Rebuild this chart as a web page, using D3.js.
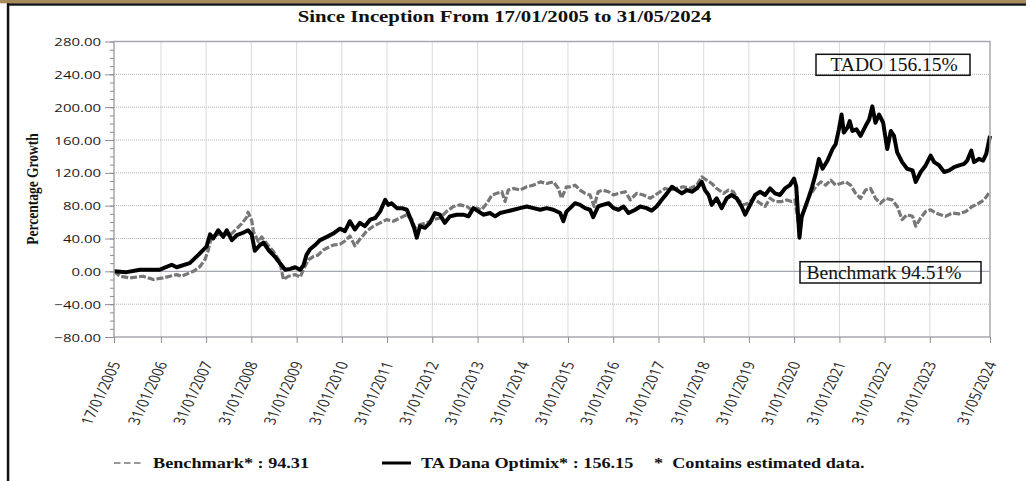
<!DOCTYPE html>
<html>
<head>
<meta charset="utf-8">
<script src="https://cdn.jsdelivr.net/npm/d3@7"></script>
<style>
  body { margin: 0; background: #fff; }
  svg { display: block; }
</style>
</head>
<body>
<svg id="chart" width="1026" height="481"></svg>
<script>
// values, x as decimal years
const fundYears = [2005.044,2005.32,2005.62,2006.06,2006.32,2006.43,2006.72,2006.91,2007.09,2007.17,2007.24,2007.35,2007.46,2007.54,2007.65,2007.76,2007.90,2008.01,2008.09,2008.16,2008.27,2008.35,2008.46,2008.60,2008.71,2008.83,2008.94,2009.05,2009.16,2009.23,2009.30,2009.38,2009.49,2009.60,2009.75,2009.89,
  2010.04,2010.15,2010.26,2010.37,2010.48,2010.59,2010.71,2010.82,2010.93,2011.04,2011.11,2011.18,2011.30,2011.41,2011.52,2011.61,2011.68,2011.74,2011.81,2011.92,2012.03,2012.14,2012.25,2012.36,2012.47,2012.62,2012.77,2012.88,2012.99,2013.10,2013.21,2013.36,2013.47,2013.58,2013.73,2013.88,2014.02,2014.17,2014.32,2014.47,2014.61,2014.76,2014.91,2014.98,2015.05,
  2015.13,2015.24,2015.35,2015.46,2015.57,2015.64,2015.75,2015.85,2015.98,2016.09,2016.20,2016.31,2016.42,2016.57,2016.68,2016.82,2016.93,2017.04,2017.15,2017.27,2017.38,2017.49,2017.60,2017.71,2017.82,2017.93,2018.04,2018.11,2018.19,2018.26,2018.37,2018.48,2018.59,2018.70,2018.81,2018.92,2019.00,2019.11,2019.22,2019.33,2019.44,2019.55,2019.66,2019.77,2019.88,2019.99,
  2020.08,2020.13,2020.20,2020.25,2020.32,2020.41,2020.48,2020.56,2020.63,2020.71,2020.82,2020.93,2021.00,2021.07,2021.13,2021.18,2021.26,2021.31,2021.37,2021.46,2021.55,2021.66,2021.74,2021.81,2021.88,2021.96,2022.05,2022.14,2022.22,2022.29,2022.36,2022.47,2022.58,2022.70,2022.77,2022.88,2022.99,2023.10,2023.18,2023.29,2023.40,2023.51,2023.62,2023.73,2023.84,2023.91,2024.00,2024.06,2024.17,2024.26,2024.33,2024.413];
const fundValues = [0,-1,2,2,8,5,10,20,30,45,40,50,42,50,38,44,47,50,45,25,32,35,26,18,10,2,3,5,2,7,20,27,32,38,42,46,
  52,49,61,51,59,55,63,65,73,87,81,83,77,77,75,63,53,41,55,53,59,71,69,59,67,69,69,67,77,73,69,71,67,71,73,75,77,79,77,75,77,75,71,61,73,
  77,83,81,77,75,66,79,81,83,77,75,79,71,75,79,77,74,79,87,95,103,99,95,99,97,101,109,99,93,81,89,77,89,93,89,79,69,81,93,97,93,101,95,93,101,105,
  113,103,41,67,77,91,103,119,137,125,135,149,155,173,191,169,175,183,171,173,165,177,185,201,181,191,181,149,171,165,145,133,125,123,109,121,129,141,133,129,121,123,127,129,131,135,147,133,137,135,143,165];

const benchYears = [2005.044,2005.18,2005.40,2005.69,2005.91,2006.13,2006.43,2006.54,2006.80,2006.95,2007.06,2007.13,2007.20,2007.39,2007.61,2007.76,2007.87,2007.98,2008.01,2008.09,2008.13,2008.24,2008.31,2008.42,2008.57,2008.71,2008.79,2008.90,2009.05,2009.16,2009.23,2009.34,2009.45,2009.56,2009.67,2009.89,
  2010.04,2010.15,2010.26,2010.37,2010.48,2010.63,2010.78,2010.93,2011.07,2011.22,2011.37,2011.52,2011.63,2011.70,2011.81,2011.96,2012.11,2012.25,2012.40,2012.55,2012.70,2012.84,2012.95,2013.06,2013.17,2013.29,2013.40,2013.51,2013.62,2013.69,2013.76,2013.88,2014.02,2014.17,2014.32,2014.47,2014.61,2014.76,2014.87,2014.94,2015.05,
  2015.13,2015.24,2015.35,2015.46,2015.57,2015.66,2015.75,2015.85,2015.98,2016.09,2016.20,2016.35,2016.46,2016.60,2016.75,2016.90,2017.01,2017.12,2017.23,2017.34,2017.49,2017.63,2017.78,2017.93,2018.04,2018.15,2018.26,2018.37,2018.52,2018.63,2018.74,2018.85,2018.96,2019.07,2019.18,2019.33,2019.44,2019.55,2019.66,2019.81,2019.92,2020.03,2020.10,2020.20,2020.26,2020.32,
  2020.41,2020.56,2020.67,2020.78,2020.89,2021.00,2021.11,2021.22,2021.33,2021.44,2021.55,2021.66,2021.77,2021.88,2021.99,2022.11,2022.25,2022.36,2022.47,2022.58,2022.70,2022.77,2022.88,2022.99,2023.10,2023.21,2023.32,2023.43,2023.58,2023.73,2023.88,2024.02,2024.17,2024.28,2024.413];
const benchValues = [0,-6,-8,-6,-10,-8,-4,-6,0,6,15,26,42,46,44,52,58,66,72,62,48,36,42,34,24,12,-10,-6,-4,-7,2,14,18,20,26,32,
  33,37,43,31,39,49,55,59,63,61,65,69,63,53,57,59,63,65,73,79,81,79,75,77,75,83,93,95,97,85,99,101,99,103,105,109,107,109,101,89,103,
  103,105,99,95,93,79,97,99,97,93,95,97,87,95,93,89,93,97,101,99,101,103,101,105,115,111,107,101,95,99,97,87,81,83,89,83,79,89,85,85,87,85,87,50,65,78,
  91,103,109,105,111,105,107,109,105,95,89,99,101,89,83,89,87,79,63,69,67,55,65,73,75,71,69,67,71,70,73,79,83,87,97];

const tickDates = ["2005-01-17","2006-01-31","2007-01-31","2008-01-31","2009-01-31","2010-01-31","2011-01-31","2012-01-31","2013-01-31","2014-01-31","2015-01-31","2016-01-31","2017-01-31","2018-01-31","2019-01-31","2020-01-31","2021-01-31","2022-01-31","2023-01-31","2024-05-31"];
const yTicks = [-80,-40,0,40,80,120,160,200,240,280];
const yMinorTicks = d3.range(-80, 281, 10);

const titleText = "Since Inception From 17/01/2005 to 31/05/2024";
const yTitle = "Percentage Growth";
const fundLabel = "TADO 156.15%";
const benchLabel = "Benchmark 94.51%";
const legendBench = "Benchmark* : 94.31";
const legendFund = "TA Dana Optimix* : 156.15";
const legendNote = "*  Contains estimated data.";

// the source image is stretched sideways, so most text is widened too
const SX = 1.3;

const yearToDate = t => {
  const yr = Math.floor(t);
  const a = Date.UTC(yr, 0, 1), b = Date.UTC(yr + 1, 0, 1);
  return new Date(a + (t - yr) * (b - a));
};
const parseDate = d3.utcParse("%Y-%m-%d");
const fmt = d3.utcFormat("%d/%m/%Y");

const plotL = 114, plotR = 990, plotT = 41.5, plotB = 337;

const svg = d3.select("#chart");
svg.append("rect").attr("width", 1026).attr("height", 481).attr("fill", "#fff");

// frame bits
svg.append("rect").attr("x", 0).attr("y", 0).attr("width", 1026).attr("height", 3.3).attr("fill", "#a88b5d");
svg.append("rect").attr("x", 7).attr("y", 3.3).attr("width", 1019).attr("height", 2.4).attr("fill", "#111");
svg.append("rect").attr("x", 6.8).attr("y", 3.3).attr("width", 2.5).attr("height", 478).attr("fill", "#111");

const x = d3.scaleUtc()
  .domain([parseDate(tickDates[0]), parseDate(tickDates[tickDates.length - 1])])
  .range([plotL, plotR]);
const y = d3.scaleLinear().domain([-80, 280]).range([plotB, plotT]);

// grid
const grid = svg.append("g");
grid.selectAll("line.h")
  .data(yTicks.filter(v => v > -80 && v < 280 && v !== 0))
  .join("line").attr("class", "h")
    .attr("x1", plotL).attr("x2", plotR)
    .attr("y1", d => y(d)).attr("y2", d => y(d))
    .attr("stroke", "#b3b5bc").attr("stroke-dasharray", "1,1");
grid.selectAll("line.v")
  .data(tickDates.slice(1, -1).map(parseDate))
  .join("line").attr("class", "v")
    .attr("x1", d => x(d)).attr("x2", d => x(d))
    .attr("y1", plotT).attr("y2", plotB)
    .attr("stroke", "#b3b5bc").attr("stroke-dasharray", "1,1");
grid.append("line")
  .attr("x1", plotL).attr("x2", plotR).attr("y1", y(0)).attr("y2", y(0))
  .attr("stroke", "#a4a7ae").attr("stroke-width", 1.2);

// lines
const line = d3.line().x(d => x(d[0])).y(d => y(d[1]));
const benchData = benchYears.map((t, i) => [yearToDate(t), benchValues[i]]);
const fundData = fundYears.map((t, i) => [yearToDate(t), fundValues[i]]);

svg.append("path").datum(benchData)
  .attr("d", line).attr("fill", "none")
  .attr("stroke", "#777").attr("stroke-width", 3.2)
  .attr("stroke-dasharray", "7,2").attr("stroke-linejoin", "round");
svg.append("path").datum(fundData)
  .attr("d", line).attr("fill", "none")
  .attr("stroke", "#000").attr("stroke-width", 4)
  .attr("stroke-linejoin", "round");

// plot border
svg.append("rect")
  .attr("x", plotL).attr("y", plotT).attr("width", plotR - plotL).attr("height", plotB - plotT)
  .attr("fill", "none").attr("stroke", "#a6a9b0").attr("stroke-width", 1.5);

// y axis
const yAxis = svg.append("g")
  .attr("transform", `translate(${plotL},0)`)
  .call(d3.axisLeft(y).tickValues(yTicks).tickSize(9).tickPadding(0).tickFormat(d3.format(".2f")));
yAxis.select(".domain").remove();
yAxis.selectAll(".tick line").attr("stroke", "#8b8e95");
yAxis.selectAll(".tick text")
  .attr("x", -10).attr("dy", "0.36em")
  .attr("transform", `scale(${SX},1)`)
  .style("font-family", "'Open Sans', sans-serif").style("font-size", "11.5px").attr("fill", "#1a1a1a");

svg.append("g")
  .attr("transform", `translate(${plotL},0)`)
  .call(d3.axisLeft(y).tickValues(yMinorTicks).tickSize(4).tickFormat(""))
  .call(g => g.select(".domain").remove())
  .selectAll(".tick line").attr("stroke", "#8b8e95");

// x axis
const xAxis = svg.append("g")
  .attr("transform", `translate(0,${plotB})`)
  .call(d3.axisBottom(x).tickValues(tickDates.map(parseDate)).tickSize(6).tickFormat(fmt));
xAxis.select(".domain").remove();
xAxis.selectAll(".tick line").attr("stroke", "#8b8e95");
xAxis.selectAll(".tick text")
  .attr("x", 0).attr("y", 0).attr("dy", "0.35em")
  .attr("text-anchor", "end")
  .attr("transform", `translate(1,25) scale(${SX},1) rotate(-70)`)
  .style("font-family", "'Open Sans', sans-serif").style("font-size", "12.5px").attr("fill", "#2a2a2a");

// title and axis title
svg.append("text")
  .attr("transform", `translate(504.5,21.5) scale(${SX},1)`)
  .attr("text-anchor", "middle")
  .style("font-family", "'Liberation Serif', serif").style("font-weight", "bold").style("font-size", "16px")
  .attr("fill", "#111").text(titleText);

svg.append("text")
  .attr("transform", `translate(32,189) scale(${SX},1) rotate(-90)`)
  .attr("text-anchor", "middle").attr("dy", "0.35em")
  .style("font-family", "'Liberation Serif', serif").style("font-weight", "bold").style("font-size", "13.5px")
  .attr("fill", "#111").text(yTitle);

// labelled boxes
const boxes = [
  { text: fundLabel, x: 816, y: 54.3, w: 154, h: 21, tx: 830.5, ty: 71 },
  { text: benchLabel, x: 800, y: 261.7, w: 181, h: 21.3, tx: 806.5, ty: 279 }
];
const boxG = svg.append("g").selectAll("g").data(boxes).join("g");
boxG.append("rect")
  .attr("x", d => d.x).attr("y", d => d.y).attr("width", d => d.w).attr("height", d => d.h)
  .attr("fill", "none").attr("stroke", "#111").attr("stroke-width", 1.5);
boxG.append("text")
  .attr("x", d => d.tx).attr("y", d => d.ty)
  .style("font-family", "'Liberation Serif', serif").style("font-size", "19.5px")
  .attr("fill", "#111").text(d => d.text);

// legend
const lg = svg.append("g");
lg.append("line").attr("x1", 114).attr("x2", 144).attr("y1", 463).attr("y2", 463)
  .attr("stroke", "#777").attr("stroke-width", 1.5).attr("stroke-dasharray", "6.5,3.5");
lg.append("line").attr("x1", 382).attr("x2", 411).attr("y1", 463).attr("y2", 463)
  .attr("stroke", "#000").attr("stroke-width", 3);
[[legendBench, 153], [legendFund, 421], [legendNote, 654]].forEach(([t, tx]) => {
  lg.append("text")
    .attr("transform", `translate(${tx},467.5) scale(${SX},1)`)
    .style("font-family", "'Liberation Serif', serif").style("font-weight", "bold").style("font-size", "14px")
    .style("white-space", "pre")
    .attr("fill", "#111").text(t);
});
</script>
</body>
</html>
